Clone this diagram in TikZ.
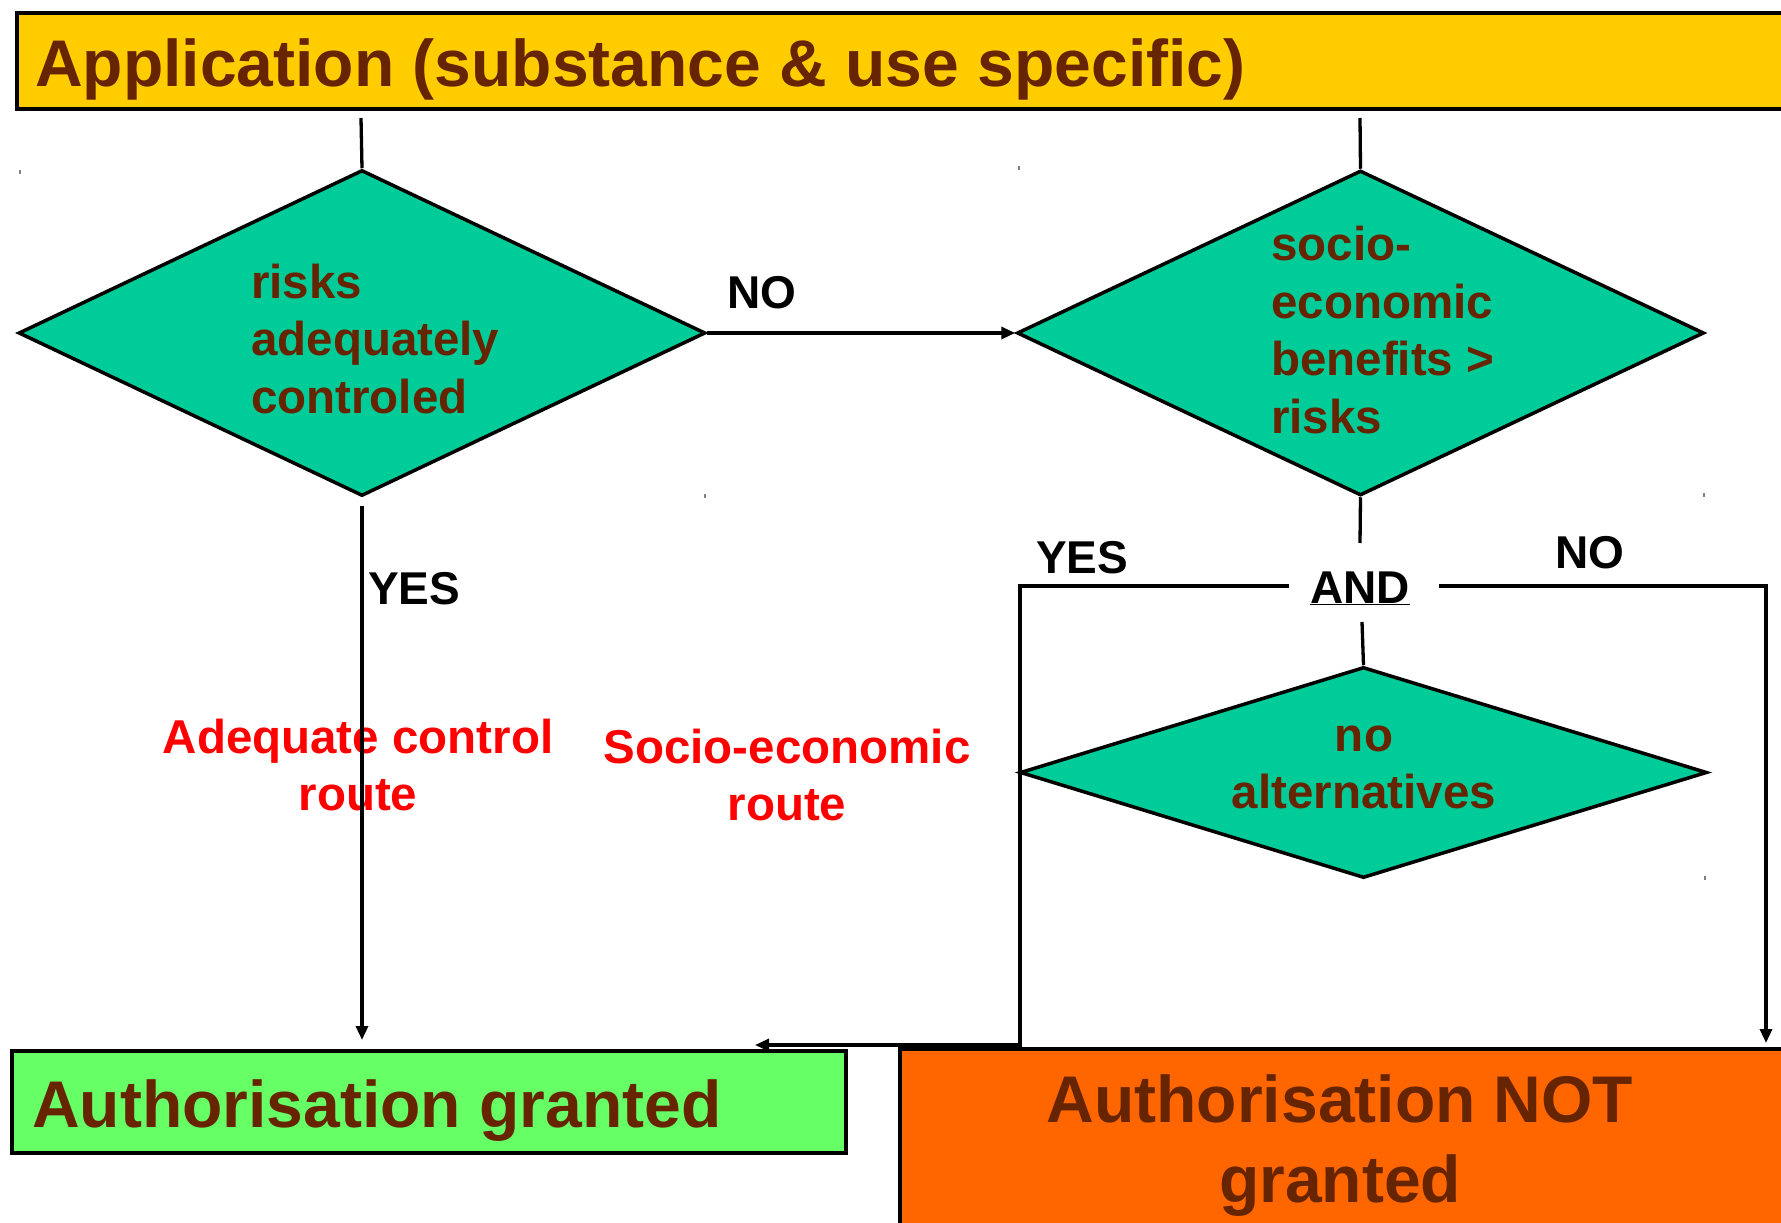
\documentclass[tikz,border=0pt]{standalone}
\usepackage{fontspec}
\setmainfont{Liberation Sans}
\usetikzlibrary{shapes.geometric,arrows.meta}
\definecolor{brn}{RGB}{102,36,0}
\definecolor{yel}{RGB}{255,204,0}
\definecolor{teal1}{RGB}{0,204,153}
\definecolor{grn}{RGB}{102,255,102}
\definecolor{org}{RGB}{255,102,0}
\definecolor{rd}{RGB}{255,0,0}
\tikzset{
  dia/.style={diamond, draw=black, line width=3.5pt, fill=teal1, inner sep=0pt},
  boxnode/.style={draw=black, line width=4pt, inner sep=0pt, anchor=north west},
  conn/.style={draw=black, line width=3.3pt},
  arr/.style={conn, -{Triangle[length=14pt,width=12pt]}},
  lbl/.style={font=\fontsize{46}{52}\selectfont\bfseries, text=black, inner sep=0pt, anchor=base west},
  dtext/.style={font=\fontsize{47.5}{57.5}\selectfont\bfseries, text=brn, inner sep=0pt, align=left, anchor=base west},
  ctext/.style={font=\fontsize{47.5}{57}\selectfont\bfseries, text=brn, inner sep=0pt, align=center, anchor=base},
  rtext/.style={font=\fontsize{47.5}{57}\selectfont\bfseries, text=rd, inner sep=0pt, align=center, anchor=base},
  bigtext/.style={font=\fontsize{66}{80}\selectfont\bfseries, text=brn, inner sep=0pt},
  speck/.style={fill=black!50, draw=none}
}
\begin{document}
\begin{tikzpicture}[x=1pt,y=-1pt]
\useasboundingbox (0,0) rectangle (1781,1223);
\fill[white] (0,0) rectangle (1781,1223);
\clip (0,0) rectangle (1781,1223);

% title box
\node[boxnode, fill=yel, minimum width=1790pt, minimum height=96pt] (app) at (15,11) {};
\node[bigtext, anchor=base west] (apptxt) at (35,86) {Application (substance \& use specific)};

% diamonds
\node[dia, minimum width=687pt, minimum height=326pt] (d1) at (362,333) {};
\node[dia, minimum width=687pt, minimum height=325pt] (d2) at (1360.5,333) {};
\node[dia, minimum width=687pt, minimum height=211pt] (d3) at (1363.5,772.5) {};

% multi-line nodes: base anchor = baseline of last line
\node[dtext] (d1t) at (251,413) {risks\\adequately\\controled};
\node[dtext] (d2t) at (1271,433) {socio-\\economic\\benefits >\\risks};
\node[ctext] (d3t) at (1364,808) {no\\alternatives};

% result boxes
\node[boxnode, fill=grn, minimum width=834pt, minimum height=102pt] (gr) at (10,1049) {};
\node[bigtext, anchor=base west] (grtxt) at (32,1127) {Authorisation granted};
\node[boxnode, line width=3.5pt, fill=org, minimum width=900pt, minimum height=200pt] (ng) at (898,1047) {};
\node[bigtext, align=center, anchor=base] (ngtxt) at (1340,1202) {Authorisation NOT\\granted};

% labels
\node[lbl] (yes1) at (368,604) {YES};
\node[lbl] (no1) at (727,308) {NO};
\node[lbl] (yes2) at (1036,573) {YES};
\node[lbl] (no2) at (1555,568) {NO};
\node[lbl, anchor=base] (and) at (1360,603) {\underline{AND}};

\node[rtext] (route1) at (358,810) {Adequate control\\route};
\node[rtext] (route2) at (787,820) {Socio-economic\\route};

% coordinates
\coordinate (t1) at (361,118);
\coordinate (t2) at (1360,118);
\coordinate (g1) at (362,1040);
\coordinate (a1) at (1360,543);
\coordinate (a2) at (1362,622);
\coordinate (aL) at (1289,586);
\coordinate (c1) at (1020,586);
\coordinate (c2) at (1020,1045);
\coordinate (gEnd) at (755,1045);
\coordinate (aR) at (1439,586);
\coordinate (c3) at (1766,586);
\coordinate (oEnd) at (1766,1043);

% connectors
\draw[conn] (t1) -- (d1.north);
\draw[conn] (t2) -- (d2.north);
\draw[arr] (d1.east) -- (d2.west);
\draw[arr] ([yshift=-8pt]d1.south) -- (g1);
\draw[conn] (d2.south) -- (a1);
\draw[conn] (a2) -- (d3.north);
\draw[arr] (aL) -- (c1) -- (c2) -- (gEnd);
\draw[arr] (aR) -- (c3) -- (oEnd);

% tiny marks
\fill[speck] (19,170) rectangle (21,174);
\fill[speck] (1018,166) rectangle (1020,170);
\fill[speck] (704,494) rectangle (706,498);
\fill[speck] (1703,493) rectangle (1705,497);
\fill[speck] (1704,876) rectangle (1706,880);
\end{tikzpicture}
\end{document}
